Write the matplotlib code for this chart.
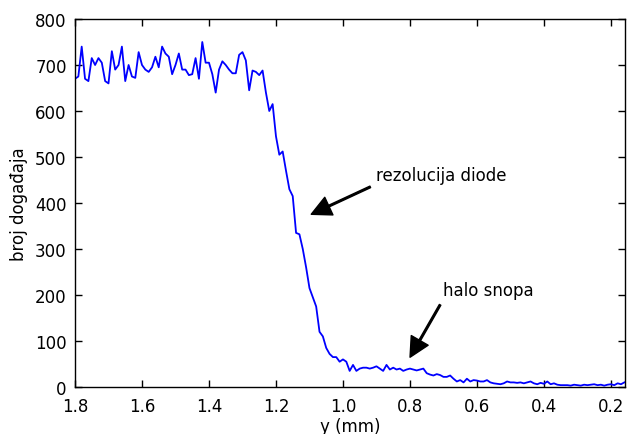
import numpy as np
import matplotlib
matplotlib.use("Agg")
import matplotlib.pyplot as plt

# positions (mm), from 1.80 down to 0.16 in 0.01 steps
y_mm = [round(1.80 - 0.01 * i, 2) for i in range(165)]

counts = [
    670, 675, 740, 670, 665, 715, 700, 715, 705, 665,   # 1.80-1.71
    660, 730, 690, 700, 740, 665, 700, 675, 672, 728,   # 1.70-1.61
    700, 690, 685, 695, 718, 695, 740, 725, 718, 680,   # 1.60-1.51
    700, 725, 690, 690, 678, 680, 715, 670, 750, 705,   # 1.50-1.41
    705, 680, 640, 690, 708, 700, 690, 682, 682, 722,   # 1.40-1.31
    728, 710, 645, 688, 685, 678, 688, 640, 600, 615,   # 1.30-1.21
    545, 505, 512, 470, 430, 415, 335, 332, 300, 260,   # 1.20-1.11
    215, 195, 175, 120, 110, 85, 72, 65, 65, 55,        # 1.10-1.01
    60, 55, 35, 48, 35, 40, 42, 42, 40, 42,             # 1.00-0.91
    45, 40, 35, 48, 38, 42, 38, 40, 35, 38,             # 0.90-0.81
    40, 38, 36, 38, 40, 30, 27, 25, 28, 26,             # 0.80-0.71
    22, 22, 25, 18, 12, 15, 10, 18, 12, 15,             # 0.70-0.61
    14, 12, 12, 15, 10, 8, 7, 6, 8, 12,                 # 0.60-0.51
    10, 10, 9, 10, 8, 10, 12, 8, 6, 9,                  # 0.50-0.41
    7, 12, 6, 8, 5, 4, 4, 4, 3, 5,                      # 0.40-0.31
    4, 3, 5, 4, 5, 6, 4, 5, 3, 5,                       # 0.30-0.21
    6, 4, 8, 6, 10                                      # 0.20-0.16
]

xticks = [1.8, 1.6, 1.4, 1.2, 1.0, 0.8, 0.6, 0.4, 0.2]
yticks = [0, 100, 200, 300, 400, 500, 600, 700, 800]

plt.rcParams['font.family'] = ['DejaVu Sans']
fig = plt.figure(figsize=(6.27, 4.35), dpi=100)
ax = fig.add_axes([75 / 627, 1 - 388 / 435, 550 / 627, 368 / 435])

ax.plot(y_mm, counts, color='blue', linewidth=1.3)
ax.set_xlim(1.8, 0.158)
ax.set_ylim(0, 800)
ax.set_xticks(xticks)
ax.set_xticklabels([f"{t:.1f}" for t in xticks])
ax.set_yticks(yticks)
ax.tick_params(direction='in', top=True, right=True, labelsize=12, length=5, width=1)
ax.tick_params(axis='x', pad=7)
ax.tick_params(axis='y', pad=6)
for s in ax.spines.values():
    s.set_linewidth(1.0)

ax.set_xlabel('y (mm)', fontsize=12, labelpad=2)
ax.set_ylabel('broj događaja', fontsize=12, labelpad=5)

arrow = dict(facecolor='black', edgecolor='black', width=1.2, headwidth=14, headlength=14, shrink=0.05)
ax.annotate('rezolucija diode', xy=(1.105, 372), xytext=(0.9, 450),
            fontsize=12, arrowprops=arrow)
ax.annotate('halo snopa', xy=(0.805, 58), xytext=(0.7, 200),
            fontsize=12, arrowprops=arrow)

fig.savefig('out.png', dpi=100)
